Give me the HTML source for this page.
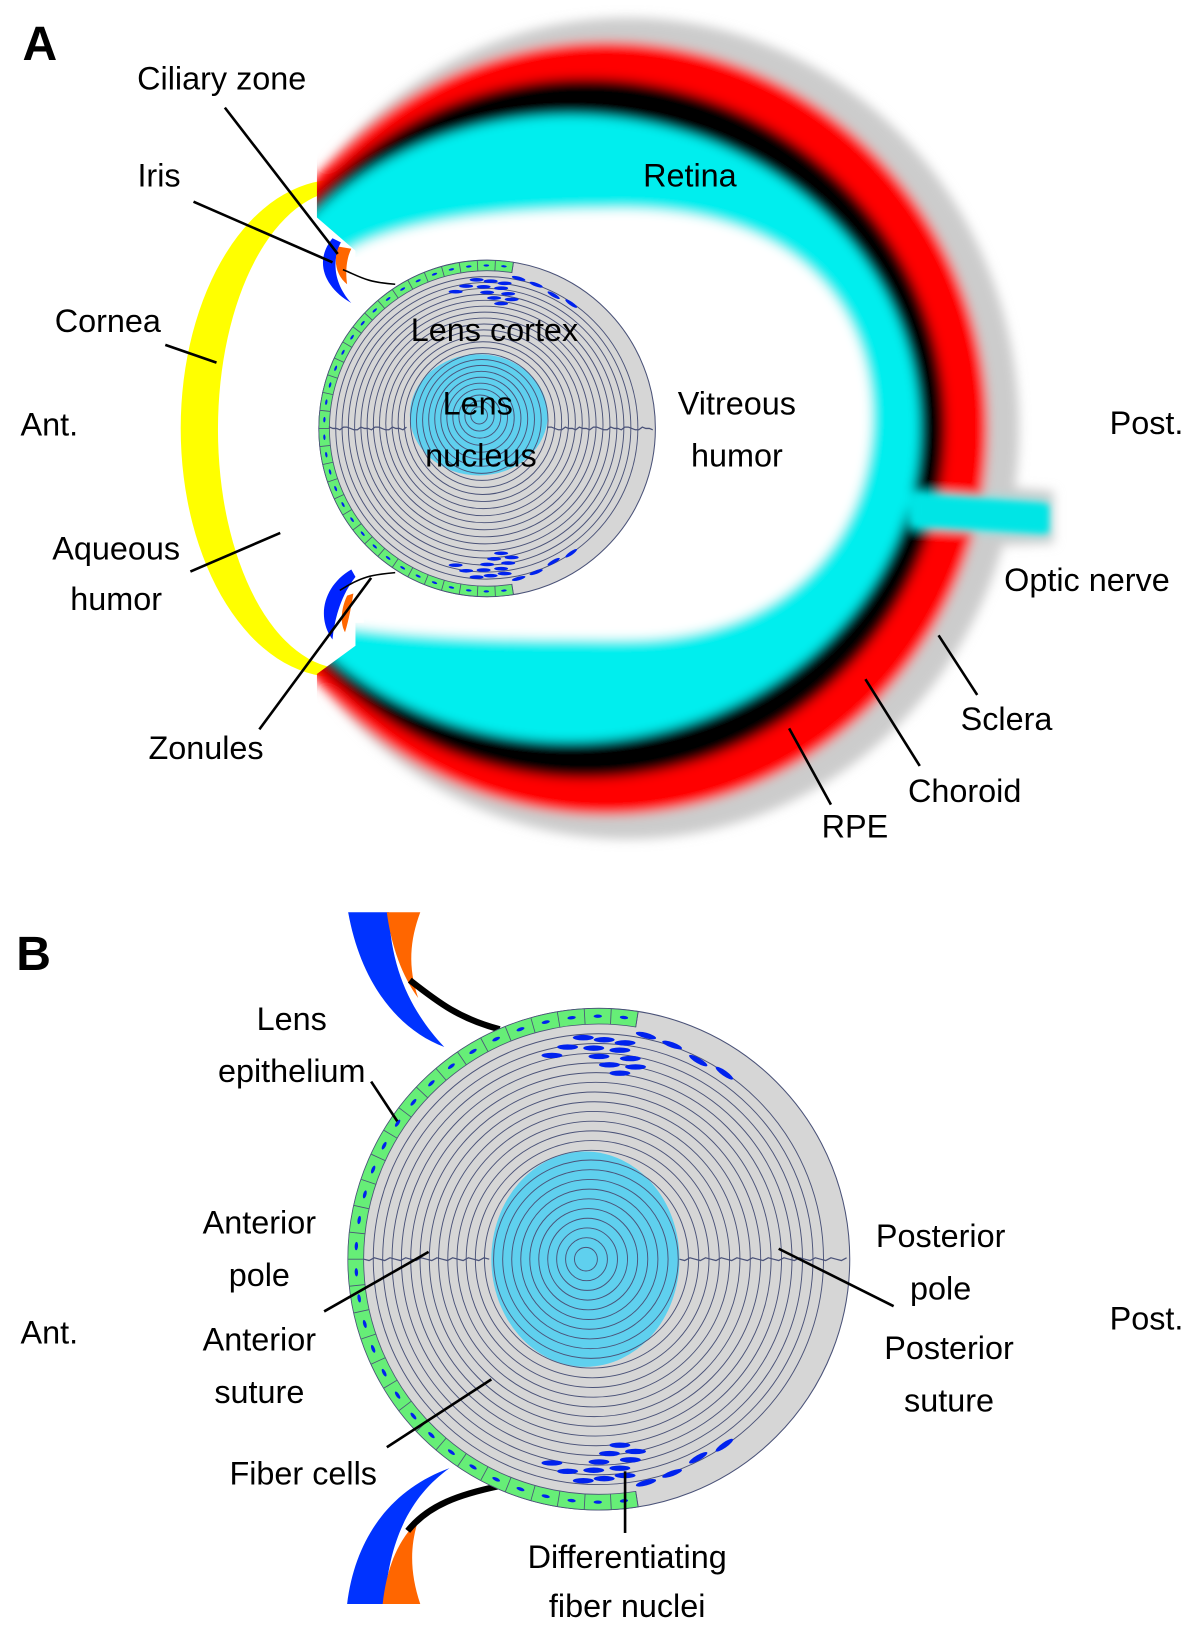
<!DOCTYPE html>
<html><head><meta charset="utf-8"><style>
html,body{margin:0;padding:0;background:#fff;}
svg{display:block;}
text{font-family:"Liberation Sans",sans-serif;font-size:31px;fill:#000;text-anchor:middle;dominant-baseline:central;}
</style></head><body>
<svg id="s" width="1200" height="1650" viewBox="0 0 1148 1579" xmlns="http://www.w3.org/2000/svg">
<defs>
<filter id="bl" x="-10%" y="-10%" width="120%" height="120%"><feGaussianBlur stdDeviation="5"/></filter>
<filter id="bl2" x="-20%" y="-20%" width="140%" height="140%"><feGaussianBlur stdDeviation="3"/></filter>
<clipPath id="eyeclip"><polygon points="303,0 1148,0 1148,850 303,850 303,645 340,618 340,240 303,208"/></clipPath>
</defs>
<rect width="1148" height="1579" fill="#fff"/>
<!-- cornea -->
<path d="M322,172 A148,236 0 0 0 322,648 L330,640 A120,226 0 0 1 330,182 Z" fill="#ffff00"/>
<!-- eye layers -->
<g clip-path="url(#eyeclip)" filter="url(#bl)">
  <ellipse cx="600" cy="410" rx="375" ry="393" fill="#cccccc"/>
  <path d="M870,458 L1008,470 L1008,520 L870,525 Z" fill="#cccccc"/>
  <ellipse cx="580" cy="410" rx="365" ry="370" fill="#ff0000"/>
  <ellipse cx="560" cy="410" rx="345" ry="335" fill="#000"/>
  <ellipse cx="545" cy="410" rx="335" ry="300" fill="#00eeee"/>
  <path d="M870,470 L1003,480 L1003,512 L870,505 Z" fill="#00e5e5"/>
  <path d="M330,242 C380,212 470,200 600,200 C770,202 836,300 834,405 C830,520 750,612 600,612 C480,612 400,610 330,600 Z" fill="#fff"/>
</g>
<rect x="300" y="246" width="48" height="350" fill="#fff"/>
<path d="M874,474 L1003,483 L1003,510 L874,502 Z" fill="#00e5e5" filter="url(#bl2)"/>
<!-- iris A -->
<path d="M318,228 C300,250 310,275 336,290 C318,270 318,248 326,232 Z" fill="#0022ff"/>
<path d="M324,236 C318,250 322,264 332,272 C330,258 332,246 336,238 Z" fill="#ff6600"/>
<path d="M336,545 C310,560 302,590 318,612 C320,592 326,570 340,552 Z" fill="#0022ff"/>
<path d="M332,570 C325,585 326,598 330,605 C334,592 336,580 338,568 Z" fill="#ff6600"/>
<path d="M328,258 C345,265 350,270 378,272" stroke="#000" stroke-width="1.5" fill="none"/>
<path d="M325,565 C345,552 355,550 378,548" stroke="#000" stroke-width="1.5" fill="none"/>
<!-- iris B -->
<path d="M333,873 L372,873 C374,930 395,970 425,1002 C380,985 345,940 333,873 Z" fill="#0033ff"/>
<path d="M370,873 L402,873 C392,900 390,925 400,955 C385,935 374,905 370,873 Z" fill="#ff6600"/>
<path d="M332,1535 L368,1535 C372,1470 395,1430 430,1405 C375,1425 340,1470 332,1535 Z" fill="#0033ff"/>
<path d="M366,1535 L402,1535 C392,1505 392,1480 400,1455 C380,1475 370,1500 366,1535 Z" fill="#ff6600"/>
<path d="M392,938 C420,960 440,975 478,985" stroke="#000" stroke-width="6" fill="none"/>
<path d="M390,1465 C410,1440 440,1430 478,1422" stroke="#000" stroke-width="6" fill="none"/>
<g id="lenses"></g>
<!-- connector lines -->
<g stroke="#000" stroke-width="2.5" fill="none">
<line x1="215" y1="103" x2="323" y2="243"/>
<line x1="185" y1="193" x2="318" y2="251"/>
<line x1="158" y1="330" x2="207" y2="347"/>
<line x1="182" y1="547" x2="268" y2="510"/>
<line x1="248" y1="698" x2="355" y2="553"/>
<line x1="935" y1="665" x2="898" y2="608"/>
<line x1="880" y1="733" x2="828" y2="650"/>
<line x1="795" y1="770" x2="755" y2="697"/>
<line x1="355" y1="1035" x2="380" y2="1073"/>
<line x1="310" y1="1255" x2="410" y2="1198"/>
<line x1="370" y1="1385" x2="470" y2="1320"/>
<line x1="855" y1="1250" x2="745" y2="1195"/>
<line x1="598" y1="1467" x2="598" y2="1408"/>
</g>
<text x="38" y="42" style="font-weight:bold;font-size:46px">A</text>
<text x="32" y="913" style="font-weight:bold;font-size:46px">B</text>
<text x="212" y="75">Ciliary zone</text>
<text x="152" y="168">Iris</text>
<text x="103" y="307">Cornea</text>
<text x="47" y="406">Ant.</text>
<text x="111" y="525">Aqueous</text>
<text x="111" y="573">humor</text>
<text x="197" y="716">Zonules</text>
<text x="660" y="168">Retina</text>
<text x="473" y="316">Lens cortex</text>
<text x="457" y="386">Lens</text>
<text x="460" y="436">nucleus</text>
<text x="705" y="386">Vitreous</text>
<text x="705" y="436">humor</text>
<text x="1097" y="405">Post.</text>
<text x="1040" y="555">Optic nerve</text>
<text x="963" y="688">Sclera</text>
<text x="923" y="757">Choroid</text>
<text x="818" y="791">RPE</text>
<text x="279" y="975">Lens</text>
<text x="279" y="1025">epithelium</text>
<text x="248" y="1170">Anterior</text>
<text x="248" y="1220">pole</text>
<text x="47" y="1275">Ant.</text>
<text x="248" y="1282">Anterior</text>
<text x="248" y="1332">suture</text>
<text x="290" y="1410">Fiber cells</text>
<text x="600" y="1490">Differentiating</text>
<text x="600" y="1537">fiber nuclei</text>
<text x="900" y="1183">Posterior</text>
<text x="900" y="1233">pole</text>
<text x="1097" y="1262">Post.</text>
<text x="908" y="1290">Posterior</text>
<text x="908" y="1340">suture</text>
</svg>
<script>
(function(){
var NS="http://www.w3.org/2000/svg",g=document.getElementById("lenses");
function el(t,a){var e=document.createElementNS(NS,t);for(var k in a)e.setAttribute(k,a[k]);g.appendChild(e);return e;}
function lens(cx,cy,R,ncx,ncy,nrx,nry,sc){
  el("circle",{cx:cx,cy:cy,r:R,fill:"#d6d6d6",stroke:"#4a5278","stroke-width":1});
  var band=15*sc, Ri=R-band;
  var a1=-81*Math.PI/180,a2=81*Math.PI/180;
  function P(r,a){return (cx+r*Math.cos(a)).toFixed(1)+","+(cy+r*Math.sin(a)).toFixed(1);}
  var d="M"+P(R,a1)+" A"+R+","+R+" 0 1 0 "+P(R,a2)+" L"+P(Ri,a2)+" A"+Ri+","+Ri+" 0 1 1 "+P(Ri,a1)+" Z";
  el("path",{d:d,fill:"#66ee77",stroke:"#4a5278","stroke-width":0.8});
  el("ellipse",{cx:ncx,cy:ncy,rx:nrx,ry:nry,fill:"#5fd0ee"});
  var n=24;
  for(var i=1;i<n;i++){
    var t=i/n, r=Ri*(1-t)+2*t;
    var ccx=cx+(ncx-cx)*t, ccy=cy+(ncy-cy)*t;
    el("ellipse",{cx:ccx,cy:ccy,rx:r*(1-0.03*t),ry:r,fill:"none",stroke:"#4a5278","stroke-width":0.9});
  }
  var steps=32;
  for(var k=0;k<=steps;k++){
    var ang=(-81-k*(198/steps))*Math.PI/180;
    el("line",{x1:cx+R*Math.cos(ang),y1:cy+R*Math.sin(ang),x2:cx+Ri*Math.cos(ang),y2:cy+Ri*Math.sin(ang),stroke:"#4a5278","stroke-width":0.8});
    if(k<steps){var m=ang-(198/steps)*Math.PI/360,rm=(R+Ri)/2;
      el("ellipse",{cx:cx+rm*Math.cos(m),cy:cy+rm*Math.sin(m),rx:1.6*sc,ry:4*sc,fill:"#0022ee",transform:"rotate("+(m*180/Math.PI)+" "+(cx+rm*Math.cos(m))+" "+(cy+rm*Math.sin(m))+")"});}
  }
  function sut(x0,x1){var s="M"+x0+","+cy;for(var x=x0;x<x1;x+=5*sc){s+=" L"+x.toFixed(1)+","+(cy+((Math.round(x/5)%3)-1)*1.3).toFixed(1);}
    el("path",{d:s,fill:"none",stroke:"#4a5278","stroke-width":1.2});}
  sut(cx-Ri,ncx-nrx); sut(ncx+nrx,cx+R);
  var pts=[[-15,-R+28,0],[5,-R+30,0],[25,-R+33,0],[-30,-R+37,0],[-5,-R+38,0],[20,-R+40,0],[0,-R+46,0],[30,-R+48,0],[10,-R+54,0],[35,-R+56,0],[20,-R+62,0],[45,-R+26,15],[70,-R+35,20],[95,-R+50,30],[120,-R+62,35],[-45,-R+45,0]];
  pts.forEach(function(p){
    var px=cx+p[0]*sc, pyT=cy-R+(p[1]+R)*sc, pyB=cy+R-(p[1]+R)*sc;
    el("ellipse",{cx:px,cy:pyT,rx:10*sc,ry:2.6*sc,fill:"#0022ee",transform:"rotate("+p[2]+" "+px+" "+pyT+")"});
    el("ellipse",{cx:px,cy:pyB,rx:10*sc,ry:2.6*sc,fill:"#0022ee",transform:"rotate("+(-p[2])+" "+px+" "+pyB+")"});
  });
}
lens(466,410,161,458,397,66,58,0.67);
lens(573,1205,240,560,1205,90,103,1);
})();
</script>
</body></html>
